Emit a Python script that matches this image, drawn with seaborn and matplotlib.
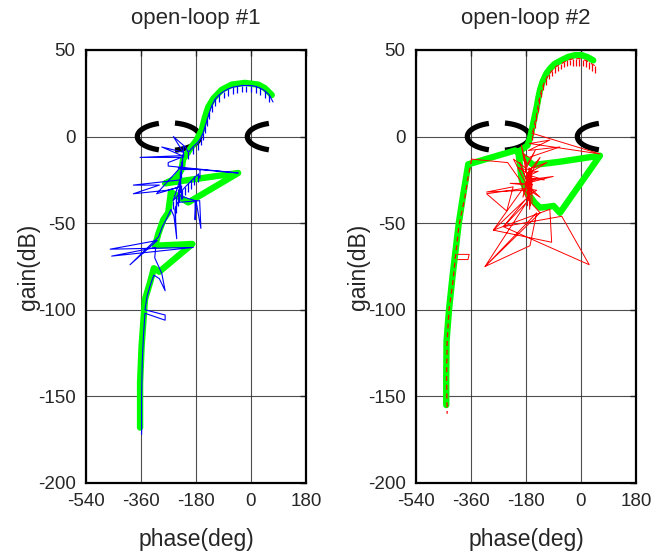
import numpy as np
import pandas as pd
import matplotlib
matplotlib.use("Agg")
import matplotlib.pyplot as plt
import seaborn as sns

sns.set_style("white")
plt.rcParams['font.family'] = ['Liberation Sans', 'DejaVu Sans']
plt.rcParams['axes.unicode_minus'] = False

# ---------------- data ----------------
TITLES = ["open-loop #1", "open-loop #2"]
X_TICKS = [-540, -360, -180, 0, 180]
Y_TICKS = [-200, -150, -100, -50, 0, 50]

# plot 1 : green reference locus
G1_PHASE = [68, 45, 24, -20, -63, -96, -123, -140, -151, -161, -178, -195, -210, -222, -227,
            -245, -281, -42, -205, -262, -271, -287, -303, -314, -192, -300, -318, -330,
            -347, -358, -363, -363]
G1_GAIN = [24, 28, 30, 31, 30, 27, 22, 17, 11, 4, -2, -6, -10, -13, -19,
           -24, -27, -21, -38, -32, -44, -48, -56, -63, -62, -78, -76, -84,
           -94, -121, -142, -168]

# plot 1 : blue estimate
B1_PHASE = [72, 60, 45, 30, 15, 0, -15, -30, -45, -60, -75, -90, -105, -118, -128, -136, -143,
            -150, -157, -165, -175, -190, -205,
            -215, -254, -222, -292, -226, -363, -228, -271, -271, -42, -238, -226, -167, -167,
            -175, -215, -255, -232, -385, -300, -385, -275, -232, -309, -227, -234, -236,
            -183, -183, -180, -164, -168, -240, -249, -243, -252, -262, -275, -290, -303,
            -396, -307, -461, -189, -456, -312, -315, -292, -281, -300, -318, -330, -340,
            -347, -281, -281, -347, -352, -356, -358, -358]
B1_GAIN = [20, 24, 26.5, 28, 29, 29.5, 29.5, 29.5, 29, 28.5, 27.5, 26, 24, 21.5, 18, 14, 10,
           6, 2, -1, -3.5, -6, -9,
           -6, 0, -9, -6, -11, -12, -12, -15, -17, -21, -18, -19, -19, -24,
           -22, -29, -37, -25, -28, -28, -33, -31, -29, -33, -17, -30, -34,
           -37, -48, -37, -53, -37, -38, -42, -59, -46, -42, -47, -52, -58,
           -74, -60, -65, -64, -69, -64, -70, -79, -89, -82, -80, -86, -92,
           -100, -103, -106, -102, -115, -130, -150, -172]
# plot 1 : short vertical whiskers (phase, top, bottom)
W1_PHASE = [60, 45, 30, 15, 0, -15, -30, -45, -60, -75, -90, -105, -118, -128, -136, -143,
            -150, -157, -165, -175, -190, -205, -222, -226, -230, -233, -236, -228, -240,
            -245, -250, -232, -255, -245, -235, -225, -215, -205, -195, -185, -175]
W1_TOP = [24, 26.5, 28, 29, 29.5, 29.5, 29.5, 29, 28.5, 27.5, 26, 24, 21.5, 18, 14, 10,
          6, 2, -1, -3.5, -6, -9, -5, -10, -14, -20, -25, -28, -30,
          -36, -40, -20, -37, -35, -33, -31, -29, -27, -25, -23, -21]
W1_BOTTOM = [20, 22, 24, 25, 25.5, 25.5, 25.5, 25, 24.5, 23.5, 22, 20, 17.5, 14, 10, 6,
             2, -2, -5, -7.5, -10, -13, -12, -18, -24, -30, -34, -36, -40,
             -44, -48, -32, -42, -40, -38, -36, -34, -32, -30, -28, -26]

# plot 2 : green reference locus
G2_PHASE = [40, 20, 2, -20, -42, -65, -86, -100, -113, -125, -134, -140, -145, -151, -156,
            -162, -167, -175, -205, -194, -178, -150, -134, -107, -90, -69, 62, -69, -156,
            -180, -205, -216, -254, -369, -385, -400, -410, -420, -432, -440, -441, -441]
G2_GAIN = [44, 46, 47, 47, 46, 44, 42, 39.5, 36.5, 32, 27, 22, 17, 12, 8,
           3, -1, -5, -9, -25, -32, -38.5, -41, -40.5, -40, -44, -11, -14.5, -16.4,
           -13, -9, -8, -10, -16, -33, -50, -65, -80, -100, -118, -140, -155]

# plot 2 : red estimate (upper branch, dashed with whiskers)
R2_TOP_PHASE = [45, 35, 25, 15, 5, -5, -15, -25, -35, -45, -55, -65, -75, -85, -95, -105,
                -115, -123, -130, -136, -141, -146, -151, -156, -161]
R2_TOP_GAIN = [41, 42, 43, 44, 44.5, 45, 45, 45, 44.5, 44, 43, 42, 41, 40, 38, 36,
               33, 30, 26, 22, 17, 12, 8, 4, 1]
R2_WHISK = [4, 4, 4, 4, 4, 4, 4, 4, 3, 3, 3, 3, 3, 3, 3, 3,
            3, 3, 3, 3, 3, 3, 3, 3, 3]
# plot 2 : red estimate (noisy middle section)
R2_MID_PHASE = [-161, 62, -168, -102, -172, -69, -170, -189, -176, -150, -178, -195, -180,
                -160, -182, -205, -178, -140, -176, -190, -172, -150, -177, -200, -174,
                -165, -179, -120, -176, -175, -170, -168, -165, -160, -162, -172,
                -221, -174, -112, -178,
                -134, -175, -91, -180, -232, -176, -134, -178, -145, -174, -167, -182, -309,
                -222, -243, -309, -190, -287, -102, -96, -287, -180, -254, -63, 27, -254,
                -178, -314, -167, -145, -314, -134, -180, -200, -240, -300, -358]
R2_MID_GAIN = [2, -10, -4, -2, -8, -6, -12, -10, -16, -8, -18, -5, -20,
               -28, -19, -18, -21, -20, -23, -35, -25, -25, -26, -15, -27,
               -40, -24, -25, -22, -40, -18, -42, -20, -38, -18, -30,
               -13, -19, -15, -22,
               -12, -25, -23, -27, -27, -28, -35, -30, -31, -34, -37, -31, -32,
               -29, -43, -33, -30, -54, -42, -61, -54, -36, -52, -46, -74, -52,
               -38, -75, -63, -44, -75, -44, -35, -25, -15, -14, -13]
# plot 2 : red estimate (lower branch, dashed)
R2_LOW_PHASE = [-358, -370, -380, -392, -400, -406, -412, -420, -432, -438, -440, -438]
R2_LOW_GAIN = [-13, -24, -35, -45, -52, -62, -71, -85, -100, -118, -140, -160]
R2_FLAG_PHASE = [-404, -366, -370, -404]
R2_FLAG_GAIN = [-68, -68, -71, -71]

# guide ellipses: centre and visible arcs (degrees of the parametric angle)
ELL_CENTERS = [-270, 90]
ELL_ARCS = [[(108, 252), (-78, 78)], [(108, 252)]]
ELL_HALF_W = 102
ELL_HALF_H = 8

GREEN = "#00ff00"

fig = plt.figure(figsize=(6.71, 5.51), dpi=100)
ax1 = fig.add_axes([86 / 671, 1 - 483 / 551, 220 / 671, 433 / 551])
ax2 = fig.add_axes([416 / 671, 1 - 483 / 551, 220 / 671, 433 / 551])


def style_axes(ax, title):
    ax.set_xlim(-540, 180)
    ax.set_ylim(-200, 50)
    ax.set_xticks(X_TICKS)
    ax.set_yticks(Y_TICKS)
    ax.grid(True, color="#222222", linewidth=0.8, alpha=0.8)
    ax.set_axisbelow(True)
    for s in ax.spines.values():
        s.set_linewidth(1.6)
        s.set_color("black")
    ax.tick_params(direction="in", length=4, width=1, labelsize=13.5, pad=7.5,
                   top=True, right=True)
    ax.set_title(title, fontsize=16, pad=19)
    ax.set_xlabel("phase(deg)", fontsize=16.5, labelpad=13)
    ax.set_ylabel("gain(dB)", fontsize=16.5, labelpad=-2)


def draw_ellipses(ax):
    for c, arcs in zip(ELL_CENTERS, ELL_ARCS):
        for a0, a1 in arcs:
            t = np.radians(np.linspace(a0, a1, 60))
            ax.plot(c + ELL_HALF_W * np.cos(t), ELL_HALF_H * np.sin(t),
                    color="black", lw=3.8, solid_capstyle="butt", zorder=3)


def line(ax, x, y, **kw):
    sns.lineplot(x=x, y=y, sort=False, estimator=None, ax=ax, legend=False, **kw)


# ---- plot 1
draw_ellipses(ax1)
line(ax1, G1_PHASE, G1_GAIN, color=GREEN, linewidth=4.6, zorder=4)
line(ax1, B1_PHASE, B1_GAIN, color="#0000ff", linewidth=0.8, zorder=5)
ax1.vlines(W1_PHASE, W1_BOTTOM, W1_TOP, color="#0000ff", linewidth=0.9, zorder=5)
style_axes(ax1, TITLES[0])

# ---- plot 2
draw_ellipses(ax2)
line(ax2, G2_PHASE, G2_GAIN, color=GREEN, linewidth=4.6, zorder=4)
line(ax2, R2_TOP_PHASE, R2_TOP_GAIN, color="#ff0000", linewidth=0.8, zorder=5,
     linestyle=(0, (4, 3)))
ax2.vlines(R2_TOP_PHASE, np.array(R2_TOP_GAIN) - np.array(R2_WHISK), R2_TOP_GAIN,
           color="#ff0000", linewidth=0.9, zorder=5)
line(ax2, R2_MID_PHASE, R2_MID_GAIN, color="#ff0000", linewidth=0.7, zorder=5)
line(ax2, R2_LOW_PHASE, R2_LOW_GAIN, color="#ff0000", linewidth=0.9, zorder=5,
     linestyle=(0, (4, 3)))
line(ax2, R2_FLAG_PHASE, R2_FLAG_GAIN, color="#ff0000", linewidth=0.7, zorder=5)
style_axes(ax2, TITLES[1])

fig.savefig("out.png", dpi=100)
